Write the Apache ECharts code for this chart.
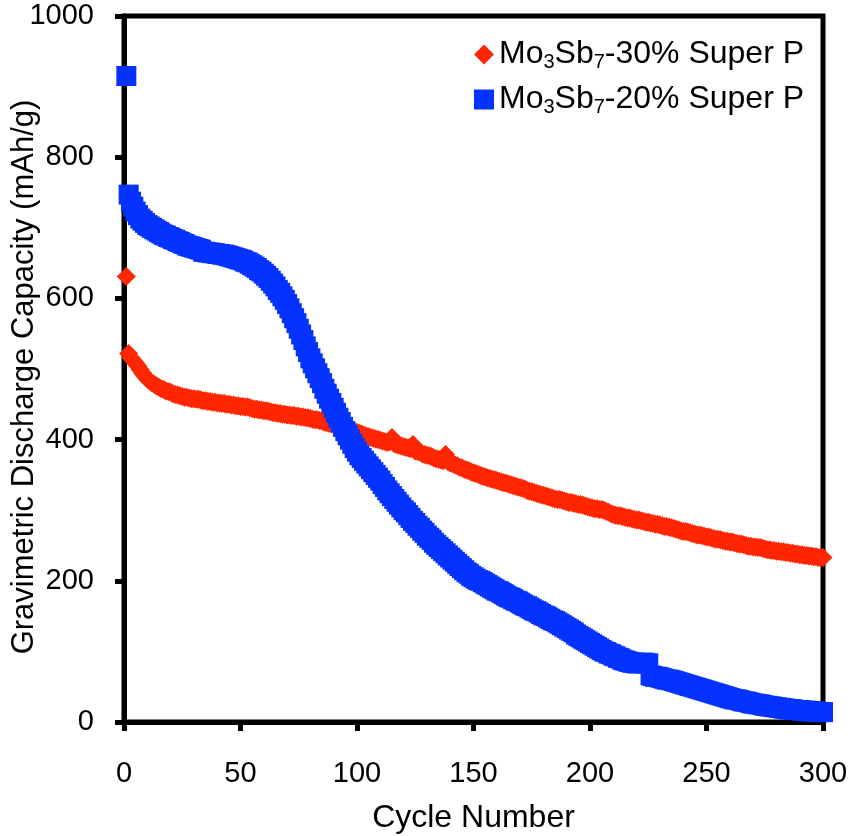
<!DOCTYPE html>
<html>
<head>
<meta charset="utf-8">
<title>Mo3Sb7 cycling</title>
<script src="https://cdn.jsdelivr.net/npm/echarts@6/dist/echarts.min.js"></script>
<style>
  html, body { margin: 0; padding: 0; background: #fff; }
  #chart { width: 851px; height: 836px; }
</style>
</head>
<body>
<div id="chart"></div>
<script>
// Discharge capacity (mAh/g) for every cycle, starting at cycle 1.
// Electrode with 30% Super P
const capacity30 = [
  631, 522, 516, 512, 508, 504, 499, 494, 490, 486,
  483, 480, 478, 476, 474, 472, 471, 469, 468, 467,
  465, 464, 463, 462, 461, 460, 460, 459, 458, 458,
  457, 457, 456, 455, 455, 454, 454, 453, 453, 452,
  452, 451, 451, 450, 450, 449, 449, 448, 448, 447,
  447, 446, 446, 445, 444, 443, 443, 442, 442, 441,
  441, 440, 439, 438, 438, 437, 437, 436, 436, 435,
  435, 434, 434, 433, 433, 432, 432, 431, 431, 430,
  429, 428, 428, 427, 426, 425, 424, 423, 422, 421,
  420, 419, 418, 417, 416, 414, 413, 412, 411, 410,
  409, 408, 406, 405, 404, 403, 402, 401, 400, 399,
  398, 397, 396, 397, 403, 394, 393, 392, 391, 390,
  389, 388, 387, 393, 384, 383, 382, 380, 379, 378,
  377, 376, 374, 373, 372, 371, 370, 379, 369, 367,
  366, 364, 363, 361, 360, 358, 357, 356, 354, 353,
  352, 351, 349, 348, 347, 346, 345, 344, 343, 342,
  341, 340, 339, 338, 337, 336, 335, 334, 333, 332,
  331, 330, 328, 327, 326, 325, 324, 323, 322, 321,
  320, 319, 318, 317, 316, 315, 315, 314, 313, 312,
  311, 311, 310, 309, 308, 308, 307, 306, 305, 304,
  303, 302, 302, 301, 301, 300, 298, 297, 295, 294,
  293, 292, 292, 291, 290, 289, 289, 288, 287, 286,
  286, 285, 284, 283, 283, 282, 281, 280, 280, 279,
  278, 277, 277, 276, 275, 274, 273, 272, 271, 270,
  270, 269, 268, 267, 266, 265, 265, 264, 263, 262,
  262, 261, 260, 259, 259, 258, 257, 256, 256, 255,
  255, 254, 253, 252, 252, 251, 250, 249, 249, 248,
  248, 247, 247, 246, 245, 244, 244, 243, 243, 242,
  242, 241, 241, 240, 240, 239, 239, 238, 238, 237,
  237, 236, 236, 235, 235, 234, 234, 233, 233, 233
];

// Electrode with 20% Super P
const capacity20 = [
  915, 747, 737, 730, 723, 718, 713, 710, 707, 704,
  702, 700, 698, 696, 694, 692, 690, 689, 687, 686,
  684, 683, 681, 680, 678, 677, 675, 674, 673, 672,
  671, 670, 669, 666, 666, 665, 665, 664, 664, 663,
  663, 662, 662, 661, 660, 659, 658, 657, 656, 655,
  654, 652, 651, 649, 647, 645, 643, 640, 638, 635,
  632, 629, 625, 621, 617, 612, 608, 603, 598, 592,
  586, 579, 572, 565, 557, 549, 541, 532, 524, 515,
  508, 501, 494, 487, 480, 472, 465, 458, 452, 445,
  438, 431, 425, 418, 412, 406, 400, 394, 388, 383,
  378, 374, 370, 366, 362, 358, 354, 350, 346, 342,
  337, 333, 328, 324, 320, 316, 312, 308, 304, 300,
  297, 293, 289, 285, 282, 278, 275, 271, 268, 264,
  261, 258, 254, 251, 248, 245, 242, 239, 236, 233,
  230, 227, 224, 221, 218, 215, 212, 210, 207, 205,
  203, 201, 200, 198, 196, 194, 192, 190, 188, 186,
  185, 183, 181, 179, 177, 176, 174, 172, 171, 169,
  167, 165, 164, 162, 160, 158, 157, 155, 153, 151,
  150, 148, 146, 144, 143, 141, 139, 137, 135, 133,
  131, 129, 127, 124, 122, 120, 118, 116, 114, 112,
  110, 108, 106, 104, 102, 100, 99, 97, 96, 94,
  93, 91, 90, 88, 87, 86, 85, 84, 84, 83,
  83, 84, 84, 83, 83, 66, 65, 64, 64, 63,
  62, 61, 60, 60, 59, 58, 57, 56, 55, 54,
  53, 52, 51, 50, 49, 48, 47, 46, 45, 44,
  43, 42, 41, 40, 39, 38, 37, 36, 35, 34,
  33, 32, 32, 31, 30, 29, 29, 28, 27, 26,
  26, 25, 25, 24, 23, 23, 22, 22, 21, 21,
  20, 20, 19, 19, 18, 18, 18, 17, 17, 17,
  16, 16, 16, 15, 15, 15, 15, 14, 14, 14
];

const FIRST_CYCLE = 1;
const xTicks = { min: 0, max: 300, interval: 50 };
const yTicks = { min: 0, max: 1000, interval: 200 };

const name30 = 'Mo3Sb7-30% Super P';
const name20 = 'Mo3Sb7-20% Super P';

const FONT = '"Liberation Sans", Arial, Helvetica, sans-serif';
const RED = '#ff2600';
const BLUE = '#0433ff';

// [cycle, capacity] pairs; the cycle number is the position in the list
function withCycles(values) {
  return values.map((v, i) => [FIRST_CYCLE + i, v]);
}

// Legend text with chemical subscripts
function legendLabel(name) {
  const m = name.match(/^Mo(\d)Sb(\d)(.*)$/);
  if (!m) return name;
  return '{t|Mo}{s|' + m[1] + '}{t|Sb}{s|' + m[2] + '}{t|' + m[3] + '}';
}

const chart = echarts.init(document.getElementById('chart'), null, { renderer: 'canvas' });

const axisLineStyle = { color: '#000', width: 5 };

chart.setOption({
  backgroundColor: '#fff',
  animation: false,
  textStyle: { fontFamily: FONT },
  grid: {
    left: 124, right: 28, top: 16, bottom: 114,
    outerBoundsMode: 'none',
    containLabel: false,
    show: true, borderColor: '#000', borderWidth: 5, backgroundColor: 'transparent'
  },
  legend: {
    orient: 'vertical',
    left: 469,
    top: 32,
    itemWidth: 20,
    itemHeight: 20,
    itemGap: 10,
    itemTextGap: 5,
    selectedMode: false,
    data: [
      { name: name30, icon: 'diamond' },
      { name: name20, icon: 'rect' }
    ],
    formatter: legendLabel,
    textStyle: {
      color: '#000',
      fontSize: 32,
      fontFamily: FONT,
      rich: {
        t: { fontSize: 32, lineHeight: 34, color: '#000', fontFamily: FONT },
        s: { fontSize: 20, lineHeight: 20, color: '#000', fontFamily: FONT, padding: [15, 0, 0, 0] }
      }
    }
  },
  xAxis: {
    type: 'value',
    min: xTicks.min, max: xTicks.max, interval: xTicks.interval,
    name: 'Cycle Number',
    nameLocation: 'middle',
    nameGap: 80,
    nameMoveOverlap: false,
    nameTextStyle: { fontSize: 32, color: '#000', fontFamily: FONT },
    axisLine: { show: true, onZero: false, lineStyle: axisLineStyle },
    axisTick: { show: true, inside: false, length: 9, lineStyle: axisLineStyle },
    axisLabel: { fontSize: 29, color: '#000', margin: 37, fontFamily: FONT, formatter: v => String(v) },
    splitLine: { show: false }
  },
  yAxis: {
    type: 'value',
    min: yTicks.min, max: yTicks.max, interval: yTicks.interval,
    name: 'Gravimetric Discharge Capacity (mAh/g)',
    nameLocation: 'middle',
    nameGap: 84,
    nameMoveOverlap: false,
    nameTextStyle: { fontSize: 31, color: '#000', fontFamily: FONT, padding: [0, 16, 0, 0] },
    axisLine: { show: true, onZero: false, lineStyle: axisLineStyle },
    axisTick: { show: true, inside: false, length: 9, lineStyle: axisLineStyle },
    axisLabel: { fontSize: 29, color: '#000', margin: 30, fontFamily: FONT, formatter: v => String(v) },
    splitLine: { show: false }
  },
  series: [
    {
      name: name30,
      type: 'scatter',
      symbol: 'diamond',
      symbolSize: 19,
      clip: false,
      itemStyle: { color: RED, opacity: 1 },
      emphasis: { disabled: true },
      data: withCycles(capacity30),
      z: 3
    },
    {
      name: name20,
      type: 'scatter',
      symbol: 'rect',
      symbolSize: 20,
      clip: false,
      itemStyle: { color: BLUE, opacity: 1 },
      emphasis: { disabled: true },
      data: withCycles(capacity20),
      z: 4
    }
  ]
});
</script>
</body>
</html>
